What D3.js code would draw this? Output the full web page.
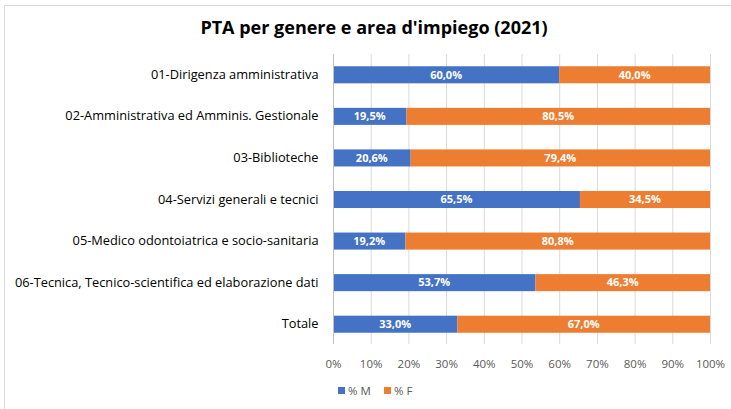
<!DOCTYPE html>
<html>
<head>
<meta charset="utf-8">
<script src="https://cdn.jsdelivr.net/npm/d3@7"></script>
<style>
  body { margin: 0; background: #fff; }
  text { font-family: "Open Sans", "Liberation Sans", sans-serif; }
</style>
</head>
<body>
<script>
// data
var categories = [
  "01-Dirigenza amministrativa",
  "02-Amministrativa ed Amminis. Gestionale",
  "03-Biblioteche",
  "04-Servizi generali e tecnici",
  "05-Medico odontoiatrica e socio-sanitaria",
  "06-Tecnica, Tecnico-scientifica ed elaborazione dati",
  "Totale"
];
var valuesM = [60.0, 19.5, 20.6, 65.5, 19.2, 53.7, 33.0];
var valuesF = [40.0, 80.5, 79.4, 34.5, 80.8, 46.3, 67.0];
var seriesNames = ["% M", "% F"];
var tickValues = [0, 10, 20, 30, 40, 50, 60, 70, 80, 90, 100];

var W = 731, H = 409;
var colors = ["#4472C4", "#ED7D31"];

var svg = d3.select("body").append("svg")
    .attr("width", W)
    .attr("height", H);

// outer chart border (runs off right/bottom)
svg.append("rect")
    .attr("x", 4.5).attr("y", 5.5)
    .attr("width", W + 10).attr("height", H + 10)
    .attr("fill", "#fff")
    .attr("stroke", "#d9d9d9");

svg.append("text")
    .attr("x", 374).attr("y", 34)
    .attr("text-anchor", "middle")
    .attr("font-size", "18px")
    .attr("font-weight", "bold")
    .attr("fill", "#000")
    .text("PTA per genere e area d'impiego (2021)");

var x = d3.scaleLinear().domain([0, 100]).range([333, 710]);
var y = d3.scaleBand().domain(categories).range([54, 345]).paddingInner(0.59).paddingOuter(0.295);

// gridlines
svg.append("g").selectAll("line")
    .data(tickValues)
    .enter().append("line")
    .attr("x1", function(d) { return x(d) + 0.5; })
    .attr("x2", function(d) { return x(d) + 0.5; })
    .attr("y1", 54).attr("y2", 344)
    .attr("stroke", "#d9d9d9");

// stacked bars
var rows = categories.map(function(c, i) { return { cat: c, m: valuesM[i], f: valuesF[i] }; });
var stack = d3.stack().keys(["m", "f"])(rows);

var layers = svg.append("g").selectAll("g")
    .data(stack)
    .enter().append("g")
    .attr("fill", function(d, i) { return colors[i]; });

layers.selectAll("rect")
    .data(function(d) { return d; })
    .enter().append("rect")
    .attr("x", function(d) { return x(d[0]); })
    .attr("y", function(d) { return y(d.data.cat); })
    .attr("width", function(d) { return x(d[1]) - x(d[0]); })
    .attr("height", y.bandwidth());

// data labels
layers.selectAll("text")
    .data(function(d) { return d; })
    .enter().append("text")
    .attr("x", function(d) { return (x(d[0]) + x(d[1])) / 2; })
    .attr("y", function(d) { return y(d.data.cat) + y.bandwidth() / 2; })
    .attr("dy", "0.35em")
    .attr("text-anchor", "middle")
    .attr("font-size", "11px")
    .attr("font-weight", "bold")
    .attr("fill", "#fff")
    .text(function(d) { return (d[1] - d[0]).toFixed(1).replace(".", ",") + "%"; });

// y axis
var yAxis = svg.append("g")
    .attr("transform", "translate(333.5,0)")
    .call(d3.axisLeft(y).tickSize(0).tickPadding(15));
yAxis.select(".domain").attr("stroke", "#bfbfbf").attr("d", "M0,54V344");
yAxis.selectAll("text")
    .attr("font-size", "12.8px")
    .attr("fill", "#000")
    .style("font-family", "'Open Sans', sans-serif");

// x axis labels
var xAxis = svg.append("g")
    .attr("transform", "translate(0,344)")
    .call(d3.axisBottom(x).tickValues(tickValues).tickSize(0).tickPadding(16)
        .tickFormat(function(d) { return d + "%"; }));
xAxis.select(".domain").remove();
xAxis.selectAll("text")
    .attr("font-size", "11.5px")
    .attr("fill", "#595959")
    .style("font-family", "'Open Sans', sans-serif");

// legend
var legend = svg.append("g").selectAll("g")
    .data(seriesNames)
    .enter().append("g")
    .attr("transform", function(d, i) { return "translate(" + (338 + i * 46) + ",387)"; });
legend.append("rect")
    .attr("width", 7).attr("height", 7)
    .attr("fill", function(d, i) { return colors[i]; });
legend.append("text")
    .attr("x", 10).attr("y", 4)
    .attr("dy", "0.35em")
    .attr("font-size", "11.5px")
    .attr("fill", "#595959")
    .text(function(d) { return d; });
</script>
</body>
</html>
